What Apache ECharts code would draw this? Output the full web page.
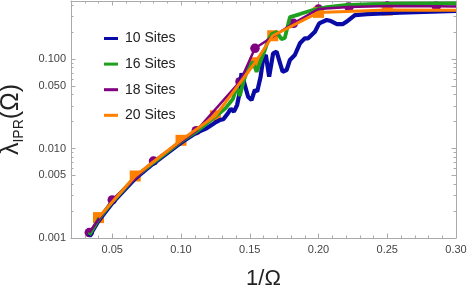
<!DOCTYPE html>
<html><head><meta charset="utf-8">
<script src="https://cdn.jsdelivr.net/npm/echarts@6/dist/echarts.min.js"></script>
<style>html,body{margin:0;padding:0;background:#fff}#c{width:469px;height:294px}</style>
</head><body><div id="c"></div>
<script>
// ---- data ----
const seriesNames = ['10 Sites','16 Sites','18 Sites','20 Sites'];
const xTicksMajor = [0.05,0.10,0.15,0.20,0.25,0.30];
const xTicksMinor = [0.02,0.03,0.04,0.06,0.07,0.08,0.09,0.11,0.12,0.13,0.14,0.16,0.17,0.18,0.19,0.21,0.22,0.23,0.24,0.26,0.27,0.28,0.29];
const yTicksMajor = [0.001,0.005,0.01,0.05,0.1];
const yTicksMinor = [0.002,0.003,0.004,0.006,0.007,0.008,0.009,0.02,0.03,0.04,0.06,0.07,0.08,0.09,0.2,0.3,0.4];

const sites10 = [[0.0333,0.00104],[0.04,0.00155],[0.05,0.00245],[0.0667,0.00462],[0.08,0.0068],[0.1,0.0116],[0.1111,0.0150],[0.1186,0.0168],[0.1258,0.0199],[0.1282,0.0208],[0.1308,0.0212],[0.1343,0.0250],[0.1362,0.0278],[0.1385,0.0258],[0.1408,0.0306],[0.1423,0.0396],[0.1440,0.0692],[0.1464,0.0512],[0.1488,0.0379],[0.1513,0.0348],[0.1537,0.0451],[0.1554,0.0432],[0.1579,0.0634],[0.1598,0.1018],[0.1617,0.1108],[0.1641,0.0634],[0.1670,0.1158],[0.1695,0.1207],[0.1739,0.0721],[0.1768,0.0754],[0.1792,0.0975],[0.1828,0.1108],[0.1865,0.1497],[0.1901,0.1703],[0.1925,0.1703],[0.1974,0.2018],[0.2005,0.2505],[0.2059,0.2729],[0.2083,0.268],[0.2134,0.246],[0.2178,0.246],[0.2214,0.268],[0.2265,0.310],[0.2352,0.318],[0.2592,0.329],[0.30,0.344]];
const sites16 = [[0.0333,0.00108],[0.04,0.00162],[0.05,0.00255],[0.0667,0.00478],[0.08,0.0070],[0.1,0.0120],[0.1111,0.0154],[0.125,0.0228],[0.1326,0.0284],[0.1377,0.0357],[0.1406,0.0487],[0.1428,0.0386],[0.1457,0.0582],[0.1493,0.0814],[0.1523,0.0926],[0.155,0.0721],[0.1586,0.1018],[0.161,0.126],[0.1634,0.163],[0.1661,0.190],[0.1697,0.2],[0.1731,0.167],[0.1755,0.172],[0.1792,0.294],[0.1865,0.318],[0.1959,0.353],[0.2061,0.381],[0.2192,0.400],[0.2374,0.411],[0.2592,0.417],[0.30,0.418]];
const sites18 = [[0.0333,0.00115],[0.05,0.00266],[0.08,0.00725],[0.1111,0.0158],[0.1429,0.0558],[0.1538,0.1317],[0.1818,0.2506],[0.2,0.362],[0.2222,0.381],[0.25,0.391],[0.2857,0.388],[0.30,0.386]];
const sites18Markers = [[0.0333,0.00115],[0.05,0.00266],[0.08,0.00725],[0.1111,0.0158],[0.1429,0.0558],[0.1538,0.1317],[0.1818,0.2506],[0.2,0.362],[0.2222,0.381],[0.25,0.391],[0.2857,0.388]];
const sites20 = [[0.04,0.00169],[0.0667,0.00493],[0.1,0.01235],[0.125,0.0232],[0.1538,0.0909],[0.1667,0.182],[0.2,0.332],[0.25,0.353],[0.30,0.350]];
const sites20Markers = [[0.04,0.00169],[0.0667,0.00493],[0.1,0.01235],[0.125,0.0232],[0.1538,0.0909],[0.1667,0.182],[0.2,0.332],[0.25,0.353]];

const colors = ['#0a0aa6','#1ea01e','#800080','#ff8000'];
const FONT = 'Liberation Sans, Arial, sans-serif';
const AX = '#aaaaaa';

const xBase = {type:'value', min:0.02, max:0.30, gridIndex:0, splitLine:{show:false}};
const yBase = {type:'log', logBase:10, min:0.001, max:0.445, gridIndex:0, splitLine:{show:false}};

function xAx(pos, ticks, len, labels, line, extra){
  return Object.assign({}, xBase, {
    position:pos,
    axisLine:{show:line, onZero:false, lineStyle:{color:AX, width:1}},
    axisTick:{show:true, inside:true, length:len, customValues:ticks, lineStyle:{color:AX}},
    axisLabel:labels ? {show:true, customValues:xTicksMajor, margin:6, fontSize:11, color:'#444', fontFamily:FONT, formatter:v=>Number(v).toFixed(2)} : {show:false}
  }, extra||{});
}
function yAx(pos, ticks, len, labels, line, extra){
  return Object.assign({}, yBase, {
    position:pos,
    axisLine:{show:line, onZero:false, lineStyle:{color:AX, width:1}},
    axisTick:{show:true, inside:true, length:len, customValues:ticks, lineStyle:{color:AX}},
    axisLabel:labels ? {show:true, customValues:yTicksMajor, margin:5, fontSize:11, color:'#444', fontFamily:FONT, formatter:v=>Number(v).toFixed(3)} : {show:false}
  }, extra||{});
}

const chart = echarts.init(document.getElementById('c'), null, {renderer:'canvas'});
chart.setOption({
  animation:false,
  grid:{left:71, right:13, top:1, bottom:56, containLabel:false, outerBoundsMode:'none'},
  legend:{
    data:seriesNames, orient:'vertical', left:99, top:25.5,
    icon:'rect', itemWidth:14, itemHeight:3, itemGap:9.6,
    textStyle:{fontSize:14, color:'#222', fontFamily:FONT, lineHeight:16, padding:[0,0,0,2]}
  },
  xAxis:[
    xAx('bottom', xTicksMajor, 4.5, true, true, {name:'1/Ω', nameLocation:'middle', nameGap:30, nameTextStyle:{fontSize:22, color:'#222', fontFamily:FONT}}),
    xAx('bottom', xTicksMinor, 2.5, false, false),
    xAx('top', xTicksMajor, 4.5, false, true),
    xAx('top', xTicksMinor, 2.5, false, false)
  ],
  yAxis:[
    yAx('left', yTicksMajor, 4.5, true, true, {name:'{a|λ}{b|IPR}{a|(Ω)}', nameLocation:'middle', nameGap:45, nameRotate:90,
      nameTextStyle:{fontFamily:FONT, color:'#222', rich:{a:{fontSize:25, lineHeight:30, color:'#222', fontFamily:FONT, verticalAlign:'middle'}, b:{fontSize:14, lineHeight:14, color:'#222', fontFamily:FONT, verticalAlign:'bottom'}}}}),
    yAx('left', yTicksMinor, 2.5, false, false),
    yAx('right', yTicksMajor, 4.5, false, true),
    yAx('right', yTicksMinor, 2.5, false, false)
  ],
  series:[
    {name:seriesNames[0], type:'line', data:sites10, showSymbol:false, color:colors[0], lineStyle:{width:4.2, color:colors[0]}, xAxisIndex:0, yAxisIndex:0},
    {name:seriesNames[1], type:'line', data:sites16, showSymbol:false, color:colors[1], lineStyle:{width:3.8, color:colors[1]}, xAxisIndex:0, yAxisIndex:0},
    {name:seriesNames[2], type:'line', data:sites18, showSymbol:false, color:colors[2], lineStyle:{width:2.5, color:colors[2]}, xAxisIndex:0, yAxisIndex:0},
    {name:'m18', type:'scatter', data:sites18Markers, symbol:'circle', symbolSize:9.5, itemStyle:{color:colors[2], opacity:1}, xAxisIndex:0, yAxisIndex:0},
    {name:seriesNames[3], type:'line', data:sites20, showSymbol:false, color:colors[3], lineStyle:{width:3, color:colors[3]}, xAxisIndex:0, yAxisIndex:0},
    {name:'m20', type:'scatter', data:sites20Markers, symbol:'rect', symbolSize:11, itemStyle:{color:colors[3], opacity:1}, xAxisIndex:0, yAxisIndex:0}
  ]
});
</script></body></html>
